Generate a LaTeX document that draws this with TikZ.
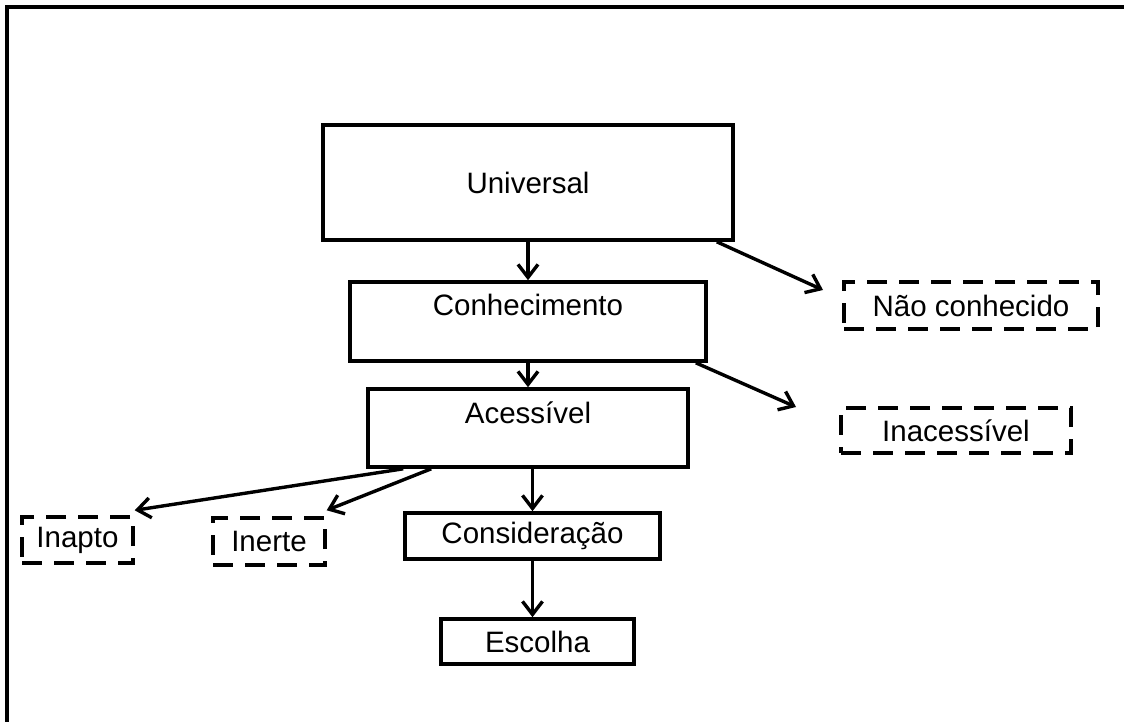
\documentclass[tikz,border=0pt]{standalone}
\usepackage{fontspec}
\setmainfont{Liberation Sans}
\usetikzlibrary{arrows.meta}

\begin{document}
\begin{tikzpicture}[x=1pt, y=-1pt,
    font=\fontsize{29.5}{34}\selectfont,
    caixa/.style={draw, line width=3.6pt, inner sep=0pt},
    tracejada/.style={draw, line width=3.4pt, dash pattern=on 20pt off 12pt, inner sep=0pt},
    seta/.style={line width=3.4pt, -{Straight Barb[length=13pt,width=20pt]}}]
  \useasboundingbox (0,0) rectangle (1124,722);
  \draw[line width=4.5pt] (1124,7) -- (7,7) -- (7,722);

  % caminho principal
  \node[caixa, minimum width=410pt, minimum height=115pt] (univ) at (528,182.5) {Universal};
  \node[caixa, minimum width=356pt, minimum height=79pt,
    text height=21pt, text depth=34pt] (conh) at (528,321.5) {Conhecimento};
  \node[caixa, minimum width=320pt, minimum height=78pt,
    text height=21pt, text depth=31pt] (aces) at (528,428) {Acessível};
  \node[caixa, minimum width=255pt, minimum height=46pt] (cons) at (532.5,536) {Consideração};
  \node[caixa, minimum width=193pt, minimum height=45pt] (esco) at (537.5,641.5) {Escolha};

  % conjuntos descartados
  \node[tracejada, minimum width=254pt, minimum height=47pt] (naoc) at (971,305.5) {Não conhecido};
  \node[tracejada, minimum width=230pt, minimum height=45pt] (inac) at (956,430.5) {Inacessível};
  \node[tracejada, minimum width=111pt, minimum height=46pt] (inap) at (77.5,540) {Inapto};
  \node[tracejada, minimum width=112pt, minimum height=47pt] (iner) at (269,541.5) {Inerte};

  \coordinate (paraNaoc) at (823,290);
  \coordinate (paraInac) at (796,407);

  \draw[seta] (univ.south) -- (univ.south |- conh.north);
  \draw[seta] (conh.south) -- (conh.south |- aces.north);
  \draw[seta] (cons.north |- aces.south) -- (cons.north);
  \draw[seta] (cons.south) -- (cons.south |- esco.north);
  \draw[seta] ([xshift=-18pt]univ.south east) -- (paraNaoc);
  \draw[seta] ([xshift=-12pt]conh.south east) -- (paraInac);
  \draw[seta] ([xshift=37pt]aces.south west) -- ([yshift=5pt]inap.north east);
  \draw[seta] ([xshift=65pt]aces.south west) -- ([yshift=6pt]iner.north east);
\end{tikzpicture}
\end{document}
